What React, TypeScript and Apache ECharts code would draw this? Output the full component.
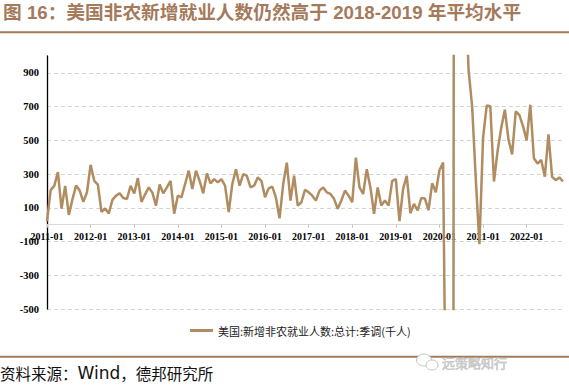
import React, { useEffect, useRef } from 'react';
import * as echarts from 'echarts';

const TITLE = '图 16：美国非农新增就业人数仍然高于 2018-2019 年平均水平';
const SOURCE_PREFIX = '资料来源：';
const SOURCE_WIND = 'Wind';
const SOURCE_SUFFIX = '，德邦研究所';
const WATERMARK = '远策略知行';
const SERIES_NAME = '美国:新增非农就业人数:总计:季调(千人)';

const YEARS = [2011, 2012, 2013, 2014, 2015, 2016, 2017, 2018, 2019, 2020, 2021, 2022];
const MONTHS = ['01', '02', '03', '04', '05', '06', '07', '08', '09', '10', '11', '12'];

const v2011 = [20, 205, 230, 312, 95, 230, 58, 150, 232, 202, 135, 192];
const v2012 = [355, 260, 237, 76, 96, 66, 147, 172, 186, 158, 152, 231];
const v2013 = [185, 276, 135, 180, 221, 190, 113, 238, 186, 221, 260, 65];
const v2014 = [172, 162, 241, 320, 212, 320, 260, 186, 304, 245, 270, 251];
const v2015 = [270, 231, 74, 241, 329, 231, 300, 290, 221, 231, 280, 260];
const v2016 = [162, 215, 225, 160, 38, 241, 368, 143, 290, 113, 133, 206];
const v2017 = [192, 172, 143, 202, 221, 192, 182, 153, 94, 143, 202, 172];
const v2018 = [133, 398, 221, 182, 329, 221, 64, 221, 113, 143, 113, 260];
const v2019 = [270, 21, 212, 290, 68, 123, 84, 158, 155, 86, 245, 192];
const v2020 = [323, 368, -1680, -20500, 2700, 4600, 1700, 1550, 920, 700, 270, -116];
const v2021 = [515, 706, 702, 256, 437, 575, 682, 505, 417, 672, 649, 584];
const v2022 = [500, 711, 394, 362, 384, 284, 535, 284, 264, 280, 256];

const VALUES = [
  ...v2011, ...v2012, ...v2013, ...v2014, ...v2015, ...v2016,
  ...v2017, ...v2018, ...v2019, ...v2020, ...v2021, ...v2022,
];
const CATEGORIES = YEARS.flatMap((y) => MONTHS.map((m) => `${y}-${m}`)).slice(0, VALUES.length);

const Y_MIN = -500;
const Y_MAX = 1000;
const Y_INTERVAL = 200;

const BROWN = '#a47a5a';
const LINE = '#b08c60';

const GRID_TOP = 56;
const GRID_BOTTOM = 80;
const CHART_H = 389;
const GRID_H = CHART_H - GRID_TOP - GRID_BOTTOM;
// distance from the grid's bottom edge up to the value 0 on the y scale
const ZERO_LIFT = (GRID_H * (0 - Y_MIN)) / (Y_MAX - Y_MIN);

const isYearStart = (_i: number, v: string) => String(v).endsWith('-01');

export default function App() {
  const ref = useRef<HTMLDivElement>(null);
  useEffect(() => {
    if (!ref.current) return;
    const chart = echarts.init(ref.current, undefined, { renderer: 'svg' });
    chart.setOption({
      animation: false,
      backgroundColor: '#ffffff',
      grid: {
        left: 47,
        right: 6,
        top: GRID_TOP,
        bottom: GRID_BOTTOM,
        containLabel: false,
        outerBoundsMode: 'none',
      },
      legend: {
        data: [SERIES_NAME],
        left: 190,
        top: 325,
        padding: 0,
        icon: 'rect',
        itemWidth: 23,
        itemHeight: 3,
        textStyle: { fontSize: 11, color: '#222', fontFamily: 'Noto Sans CJK SC' },
      },
      xAxis: {
        type: 'category',
        data: CATEGORIES,
        boundaryGap: false,
        position: 'bottom',
        offset: -ZERO_LIFT,
        axisLine: { onZero: false, lineStyle: { color: '#d9d9d9', width: 1 } },
        axisTick: { interval: isYearStart, length: 3, lineStyle: { color: '#bfbfbf' } },
        axisLabel: {
          interval: isYearStart,
          margin: 7,
          fontSize: 10,
          fontWeight: 'bold',
          fontFamily: 'Liberation Serif',
          color: '#000',
        },
        splitLine: { show: false },
      },
      yAxis: {
        type: 'value',
        min: Y_MIN,
        max: Y_MAX,
        interval: Y_INTERVAL,
        axisLine: { show: true, lineStyle: { color: '#000', width: 1.3 } },
        axisTick: { show: false },
        axisLabel: {
          showMaxLabel: false,
          margin: 8,
          fontSize: 10.5,
          fontWeight: 'bold',
          fontFamily: 'Liberation Serif',
          color: '#000',
        },
        splitLine: {
          show: true,
          showMaxLine: false,
          lineStyle: { color: '#d4d4d4', type: [4, 3], width: 1 },
        },
      },
      series: [
        {
          type: 'line',
          name: SERIES_NAME,
          data: VALUES,
          symbol: 'none',
          showSymbol: false,
          clip: true,
          lineStyle: { color: LINE, width: 2.5 },
          itemStyle: { color: LINE },
        },
      ],
      graphic: [
        {
          type: 'text',
          x: 3,
          y: 12,
          style: {
            text: TITLE,
            fill: BROWN,
            font: 'bold 18.7px "Liberation Sans", "Noto Sans CJK SC", sans-serif',
            verticalAlign: 'middle',
            textVerticalAlign: 'middle',
          },
        },
        { type: 'rect', shape: { x: 0, y: 31.3, width: 569, height: 2 }, style: { fill: BROWN } },
        { type: 'rect', shape: { x: 0, y: 355.7, width: 569, height: 2 }, style: { fill: BROWN } },
        {
          type: 'text',
          x: 0,
          y: 373,
          style: {
            text: `{a|${SOURCE_PREFIX}}{b|${SOURCE_WIND}}{a|${SOURCE_SUFFIX}}`,
            verticalAlign: 'middle',
            textVerticalAlign: 'middle',
            rich: {
              a: { fontSize: 15.5, fontFamily: 'Noto Sans CJK SC', fill: '#111', color: '#111' },
              b: { fontSize: 17, fontFamily: 'DejaVu Sans', fill: '#111', color: '#111' },
            },
          },
        },
        {
          type: 'ellipse',
          shape: { cx: 424, cy: 360, rx: 7.5, ry: 6 },
          style: { fill: '#fff', stroke: '#c4c4c4', lineWidth: 1 },
        },
        {
          type: 'ellipse',
          shape: { cx: 432, cy: 365, rx: 6, ry: 5 },
          style: { fill: '#fff', stroke: '#c4c4c4', lineWidth: 1 },
        },
        {
          type: 'text',
          x: 442,
          y: 362,
          style: {
            text: WATERMARK,
            fill: '#c9c9c9',
            stroke: '#a8a8a8',
            lineWidth: 0.4,
            font: '13px "Noto Sans CJK SC", sans-serif',
            verticalAlign: 'middle',
            textVerticalAlign: 'middle',
          },
        },
      ],
    });
    return () => chart.dispose();
  }, []);
  return (
    <div
      ref={ref}
      style={{ position: 'fixed', left: 0, top: 0, width: 569, height: 389, background: '#fff' }}
    />
  );
}
